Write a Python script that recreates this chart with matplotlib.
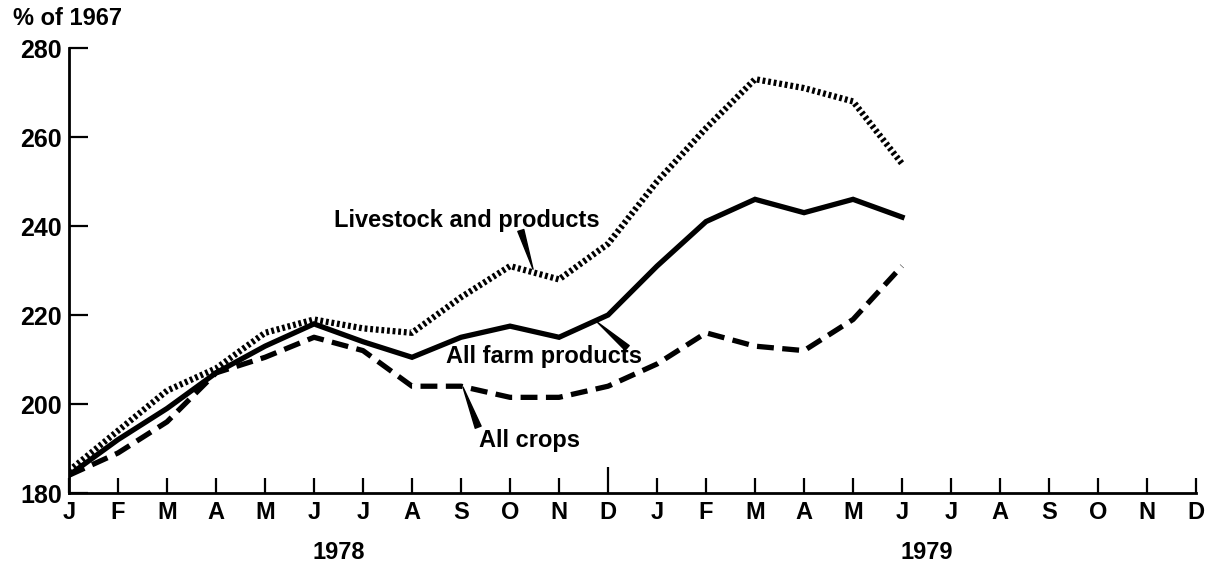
import matplotlib.pyplot as plt

plt.rcParams['font.family'] = ['Liberation Sans', 'DejaVu Sans']

# months J 1978 .. D 1979
month_labels = ['J', 'F', 'M', 'A', 'M', 'J', 'J', 'A', 'S', 'O', 'N', 'D'] * 2
years = ['1978', '1979']

# index values, % of 1967, Jan 1978 .. Jun 1979
livestock = [185, 194, 203, 208, 216, 219, 217, 216, 224, 231, 228, 236,
             250, 262, 273, 271, 268, 254]
farm = [184, 192, 199, 207, 213, 218, 214, 210.5, 215, 217.5, 215, 220,
        231, 241, 246, 243, 246, 242]
crops = [184, 189, 196, 207, 210.5, 215, 212, 204, 204, 201.5, 201.5, 204,
         209, 216, 213, 212, 219, 231]

yticks = [180, 200, 220, 240, 260, 280]


def main():
    fig = plt.figure(figsize=(12.15, 5.65), dpi=100)
    ax = fig.add_axes([0.0568, 0.1274, 0.9276, 0.7876])

    x = list(range(len(livestock)))
    ax.plot(x, livestock, color='black', lw=4.5,
            linestyle=(0, (0.45, 0.45)), dash_capstyle='butt')
    ax.plot(x, farm, color='black', lw=3.8, solid_joinstyle='miter')
    ax.plot(x, crops, color='black', lw=3.8,
            linestyle=(0, (3.2, 1.6)), dash_capstyle='butt')

    ax.set_xlim(0, 23)
    ax.set_ylim(180, 280)

    ax.set_xticks(range(24))
    ax.set_xticklabels(month_labels)
    ax.set_yticks(yticks)
    for s in ['top', 'right']:
        ax.spines[s].set_visible(False)
    for s in ['left', 'bottom']:
        ax.spines[s].set_linewidth(2)
    ax.tick_params(axis='x', direction='in', length=11, width=1.6,
                   pad=6, labelsize=17)
    ax.tick_params(axis='y', direction='in', length=14, width=1.6,
                   pad=5, labelsize=18)
    # longer tick at the year change
    ax.xaxis.get_major_ticks()[11].tick1line.set_markersize(19)
    for lab in ax.get_xticklabels() + ax.get_yticklabels():
        lab.set_fontweight('bold')

    ax.text(5.5, -0.133, years[0], transform=ax.get_xaxis_transform(),
            ha='center', va='center', fontsize=17, fontweight='bold')
    ax.text(17.5, -0.133, years[1], transform=ax.get_xaxis_transform(),
            ha='center', va='center', fontsize=17, fontweight='bold')
    fig.text(0.011, 0.967, '% of 1967', ha='left', va='center',
             fontsize=17, fontweight='bold')

    # labels with wedge pointers
    ax.text(8.12, 241.3, 'Livestock and products', ha='center', va='center',
            fontsize=17, fontweight='bold')
    ax.annotate('', xy=(9.47, 230.3), xytext=(9.22, 239.0),
                arrowprops=dict(arrowstyle='wedge,tail_width=0.45',
                                color='black', shrinkA=0, shrinkB=0))
    ax.text(9.69, 210.6, 'All farm products', ha='center', va='center',
            fontsize=17, fontweight='bold')
    ax.annotate('', xy=(10.78, 218.4), xytext=(11.39, 212.6),
                arrowprops=dict(arrowstyle='wedge,tail_width=0.45',
                                color='black', shrinkA=0, shrinkB=0))
    ax.text(9.39, 191.9, 'All crops', ha='center', va='center',
            fontsize=17, fontweight='bold')
    ax.annotate('', xy=(8.04, 203.8), xytext=(8.35, 194.8),
                arrowprops=dict(arrowstyle='wedge,tail_width=0.45',
                                color='black', shrinkA=0, shrinkB=0))

    fig.savefig('out.png', dpi=100)


main()
